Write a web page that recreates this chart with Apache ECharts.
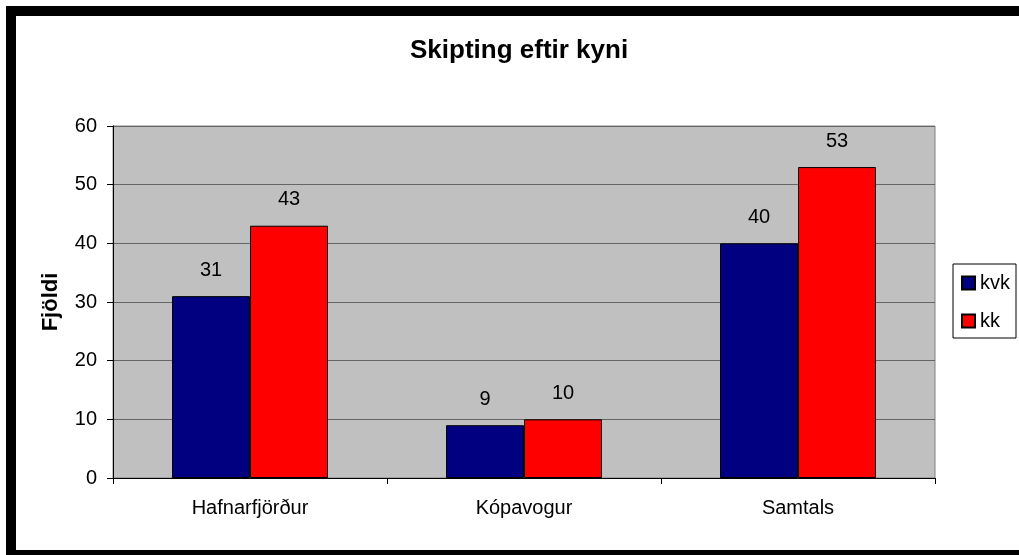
<!DOCTYPE html>
<html>
<head>
<meta charset="utf-8">
<script src="https://cdn.jsdelivr.net/npm/echarts@6/dist/echarts.min.js"></script>
<style>
html,body{margin:0;padding:0;background:#fff;}
#c{width:1019px;height:555px;}
</style>
</head>
<body>
<div id="c"></div>
<script>
const titleText = 'Skipting eftir kyni';
const yAxisName = 'Fjöldi';
const categories = ['Hafnarfjörður', 'Kópavogur', 'Samtals'];
const seriesNames = ['kvk', 'kk'];
const kvkValues = [31, 9, 40];
const kkValues = [43, 10, 53];
const yMin = 0, yMax = 60, yStep = 10;

const FONT = '"Liberation Sans", Arial, sans-serif';
const chart = echarts.init(document.getElementById('c'), null, {renderer: 'canvas'});

const barLabel = {
  show: true, position: 'top', distance: 16,
  color: '#000', fontSize: 20, fontFamily: FONT
};

chart.setOption({
  backgroundColor: '#fff',
  animation: false,
  title: {
    text: titleText,
    left: 405,
    top: 33,
    padding: 5,
    textStyle: {fontSize: 26, fontWeight: 'bold', color: '#000', fontFamily: FONT}
  },
  legend: {
    orient: 'vertical',
    left: 953,
    top: 264,
    padding: [9, 6, 7, 8],
    itemGap: 18,
    itemWidth: 13,
    itemHeight: 13,
    borderColor: '#000',
    borderWidth: 1,
    icon: 'rect',
    textStyle: {fontSize: 20, color: '#000', fontFamily: FONT, padding: [0, 0, 0, 0]},
    data: seriesNames
  },
  grid: {
    left: 113, right: 84, top: 126, bottom: 77,
    show: true, backgroundColor: '#C0C0C0', borderColor: '#808080', borderWidth: 1
  },
  xAxis: {
    type: 'category',
    data: categories,
    axisLine: {lineStyle: {color: '#000', width: 1}},
    axisTick: {show: true, length: 6, lineStyle: {color: '#000'}},
    axisLabel: {fontSize: 20, color: '#000', fontFamily: FONT, margin: 20}
  },
  yAxis: {
    type: 'value',
    min: yMin, max: yMax, interval: yStep,
    name: yAxisName,
    nameLocation: 'middle',
    nameGap: 51,
    nameRotate: 90,
    nameTextStyle: {fontSize: 22, fontWeight: 'bold', color: '#000', fontFamily: FONT},
    axisLine: {show: true, lineStyle: {color: '#000', width: 1}},
    axisTick: {show: true, length: 6, lineStyle: {color: '#000'}},
    axisLabel: {fontSize: 20, color: '#000', fontFamily: FONT, margin: 16},
    splitLine: {show: true, lineStyle: {color: '#666', width: 1}}
  },
  series: [
    {
      name: seriesNames[0], type: 'bar', data: kvkValues,
      barWidth: 78, barGap: '0%',
      itemStyle: {color: '#000080', borderColor: '#000', borderWidth: 1},
      label: barLabel
    },
    {
      name: seriesNames[1], type: 'bar', data: kkValues,
      barWidth: 78, barGap: '0%',
      itemStyle: {color: '#FF0000', borderColor: '#000', borderWidth: 1},
      label: barLabel
    }
  ],
  graphic: [
    {type: 'rect', silent: true, z: 100, shape: {x: 6, y: 6, width: 10, height: 549}, style: {fill: '#000'}},
    {type: 'rect', silent: true, z: 100, shape: {x: 6, y: 6, width: 1013, height: 10}, style: {fill: '#000'}},
    {type: 'rect', silent: true, z: 100, shape: {x: 6, y: 550, width: 1013, height: 5}, style: {fill: '#000'}}
  ]
});
</script>
</body>
</html>
